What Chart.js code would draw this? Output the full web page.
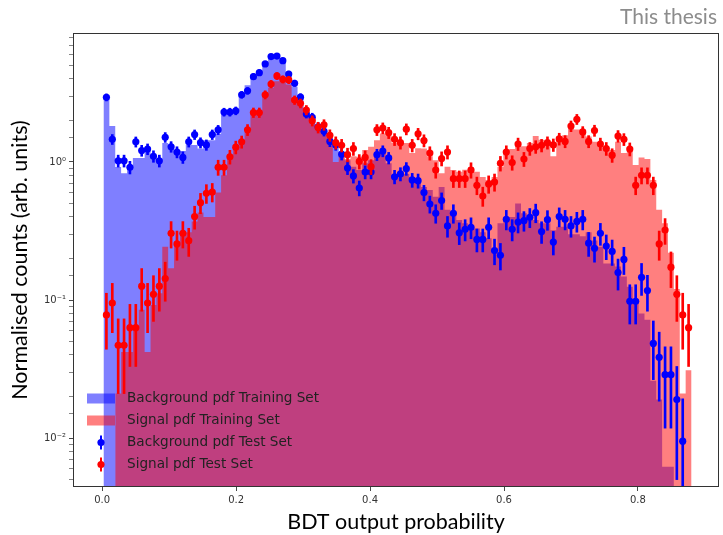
<!DOCTYPE html>
<html>
<head>
<meta charset="utf-8">
<title>BDT output probability</title>
<script src="https://cdn.jsdelivr.net/npm/chart.js@4.4.1/dist/chart.umd.min.js"></script>
<style>
  html, body { margin: 0; padding: 0; background: #fff; }
  #wrap { position: relative; width: 723px; height: 535px; }
  #tag { position: absolute; right: 6px; top: 3px; font-family: Lato, sans-serif; font-size: 21px; color: #8c8c8c; }
</style>
</head>
<body>
<div id="wrap">
  <canvas id="bdtChart"></canvas>
  <div id="tag">This thesis</div>
</div>
<script>
// binning of the BDT output (100 bins)
const binLo = 0.002;
const binWidth = 0.00878;

// training sets, normalised bin contents
const bkgTrain = [
  2.9, 1.82, 0.92, 0.83, 0.92, 1.07, 1.07, 1.22, 1.08, 1.02,
  1.37, 1.28, 1.2, 1.2, 1.33, 1.33, 1.25, 1.44, 1.44, 1.6,
  2.2, 2.38, 2.38, 3.0, 3.6, 4.1, 4.55, 5.19, 5.8, 5.85,
  5.25, 4.4, 3.51, 2.97, 2.25, 2.1, 1.85, 1.68, 1.5, 1.29,
  1.12, 1.03, 0.925, 0.875, 0.98, 1.03, 1.16, 1.22, 0.98, 0.805,
  0.82, 0.82, 0.78, 0.74, 0.66, 0.627, 0.56, 0.66, 0.45, 0.425,
  0.38, 0.36, 0.34, 0.33, 0.31, 0.28, 0.23, 0.36, 0.4, 0.4,
  0.5, 0.425, 0.4, 0.38, 0.36, 0.36, 0.32, 0.34, 0.34, 0.3,
  0.3, 0.29, 0.31, 0.27, 0.243, 0.184, 0.184, 0.175, 0.148, 0.125,
  0.1, 0.08, 0.072, 0.026, 0.019, 0.0062, 0.0062, 0, 0, 0
];
const sigTrain = [
  0, 0, 0.021, 0.042, 0.042, 0.063, 0.085, 0.042, 0.092, 0.112,
  0.243, 0.17, 0.243, 0.3, 0.31, 0.37, 0.43, 0.4, 0.4, 0.6,
  0.8, 1.09, 1.29, 1.42, 1.65, 2.25, 2.28, 3.1, 3.45, 3.85,
  3.85, 3.65, 2.9, 2.6, 2.22, 2.02, 1.8, 1.7, 1.52, 1.0,
  1.18, 1.05, 1.1, 1.09, 1.22, 1.29, 1.44, 1.61, 1.55, 1.37,
  1.37, 1.37, 1.16, 1.26, 1.25, 1.1, 1.03, 0.83, 0.925, 0.875,
  0.85, 0.88, 0.92, 0.85, 0.78, 0.74, 0.78, 0.92, 1.22, 1.24,
  1.33, 1.3, 1.37, 1.54, 1.45, 1.4, 1.1, 1.53, 1.56, 1.75,
  1.72, 1.72, 1.53, 1.4, 1.33, 1.29, 1.22, 1.4, 1.16, 1.22,
  0.95, 1.08, 1.05, 0.74, 0.45, 0.36, 0.22, 0.12, 0.021, 0.031
];

// test sets with their uncertainties
const bkgTest = [
  2.94, 1.46, 1.02, 1.02, 0.915, 1.4, 1.21, 1.24, 1.1, 1.02,
  1.51, 1.29, 1.18, 1.08, 1.4, 1.58, 1.38, 1.33, 1.58, 1.71,
  2.3, 2.3, 2.35, 3.07, 3.28, 4.15, 4.44, 5.13, 5.8, 5.85,
  5.42, 4.34, 3.72, 2.95, 2.23, 2.11, 1.8, 1.67, 1.41, 1.33,
  1.14, 0.905, 0.792, 0.648, 0.846, 0.846, 1.13, 1.2, 1.07, 0.782,
  0.819, 0.895, 0.741, 0.732, 0.6, 0.496, 0.425, 0.525, 0.344, 0.425,
  0.307, 0.325, 0.336, 0.275, 0.275, 0.336, 0.228, 0.211, 0.384, 0.325,
  0.367, 0.376, 0.397, 0.429, 0.313, 0.382, 0.263, 0.402, 0.384, 0.344,
  0.371, 0.384, 0.258, 0.237, 0.304, 0.246, 0.225, 0.158, 0.197, 0.098,
  0.098, 0.146, 0.117, 0.0485, 0.0385, 0.0288, 0.0288, 0.019, 0.0095, null
];
const bkgTestErr = [
  0.171, 0.121, 0.101, 0.101, 0.096, 0.118, 0.11, 0.111, 0.105, 0.101,
  0.123, 0.114, 0.109, 0.104, 0.118, 0.126, 0.117, 0.115, 0.126, 0.131,
  0.152, 0.152, 0.153, 0.175, 0.181, 0.204, 0.211, 0.226, 0.241, 0.242,
  0.233, 0.208, 0.193, 0.172, 0.149, 0.145, 0.134, 0.129, 0.119, 0.115,
  0.107, 0.095, 0.089, 0.08, 0.092, 0.092, 0.106, 0.11, 0.103, 0.088,
  0.09, 0.095, 0.086, 0.086, 0.077, 0.07, 0.065, 0.072, 0.059, 0.065,
  0.055, 0.057, 0.058, 0.052, 0.052, 0.058, 0.048, 0.046, 0.062, 0.057,
  0.061, 0.061, 0.063, 0.066, 0.056, 0.062, 0.051, 0.063, 0.062, 0.059,
  0.061, 0.062, 0.051, 0.049, 0.055, 0.05, 0.047, 0.04, 0.044, 0.031,
  0.031, 0.038, 0.034, 0.022, 0.02, 0.017, 0.017, 0.014, 0.0097, null
];
const sigTest = [
  0.078, 0.095, 0.047, 0.047, 0.063, 0.063, 0.126, 0.095, 0.11, 0.126,
  0.143, 0.304, 0.255, 0.304, 0.269, 0.402, 0.507, 0.593, 0.606, 0.915,
  0.915, 1.09, 1.28, 1.4, 1.71, 2.28, 2.28, 3.07, 3.67, 4.2,
  3.97, 3.93, 2.81, 2.66, 2.38, 1.99, 1.78, 1.86, 1.56, 1.38,
  1.32, 1.13, 1.25, 1.01, 1.08, 0.925, 1.71, 1.76, 1.63, 1.46,
  1.38, 1.73, 1.32, 1.6, 1.43, 1.16, 0.875, 1.06, 1.18, 0.757,
  0.757, 0.757, 0.875, 0.678, 0.567, 0.693, 0.716, 0.978, 1.18, 0.99,
  1.35, 1.05, 1.25, 1.29, 1.32, 1.38, 1.33, 1.47, 1.41, 1.82,
  2.04, 1.65, 1.41, 1.69, 1.35, 1.25, 1.12, 1.54, 1.46, 1.24,
  0.678, 0.8, 0.8, 0.678, 0.255, 0.321, 0.173, 0.11, 0.078, 0.063
];
const sigTestErr = [
  0.034, 0.037, 0.026, 0.026, 0.03, 0.03, 0.043, 0.037, 0.04, 0.043,
  0.045, 0.066, 0.061, 0.066, 0.062, 0.076, 0.085, 0.092, 0.093, 0.115,
  0.115, 0.125, 0.136, 0.142, 0.157, 0.181, 0.181, 0.21, 0.23, 0.246,
  0.239, 0.238, 0.201, 0.196, 0.185, 0.169, 0.16, 0.164, 0.15, 0.141,
  0.138, 0.128, 0.134, 0.121, 0.125, 0.115, 0.157, 0.159, 0.153, 0.145,
  0.141, 0.158, 0.138, 0.152, 0.144, 0.129, 0.112, 0.124, 0.13, 0.104,
  0.104, 0.104, 0.112, 0.099, 0.09, 0.1, 0.102, 0.119, 0.13, 0.119,
  0.139, 0.123, 0.134, 0.136, 0.138, 0.141, 0.138, 0.145, 0.142, 0.162,
  0.171, 0.154, 0.142, 0.156, 0.139, 0.134, 0.127, 0.149, 0.145, 0.134,
  0.099, 0.107, 0.107, 0.099, 0.061, 0.068, 0.05, 0.04, 0.034, 0.03
];

// axes
const xTicks = [0, 0.2, 0.4, 0.6, 0.8];
const xTickLabels = ["0.0", "0.2", "0.4", "0.6", "0.8"];
const yDecades = [0, -1, -2];
const yDecadeLabels = ["10\u2070", "10\u207B\u00B9", "10\u207B\u00B2"];
const yMin = 0.00442;
const yMax = 8.6;

const edge = (k) => binLo + k * binWidth;
const centre = (k) => edge(k) + binWidth / 2;

// outline of a filled histogram: two points per bin, gaps where empty
function histOutline(values) {
  const pts = [];
  values.forEach((v, k) => {
    if (v > 0) {
      pts.push({ x: edge(k), y: v }, { x: edge(k + 1), y: v });
    } else {
      pts.push({ x: edge(k), y: null });
    }
  });
  return pts;
}

function markers(values) {
  return values
    .map((v, k) => ({ x: centre(k), y: v }))
    .filter((p) => p.y != null);
}

// vertical error bars drawn as thin floating bars
function errorBars(values, errs) {
  const out = [];
  values.forEach((v, k) => {
    if (v == null) return;
    out.push({ x: centre(k), y: [Math.max(v - errs[k], 1e-4), v + errs[k]] });
  });
  return out;
}

function isDecade(v) {
  const e = Math.log10(v);
  return Math.abs(e - Math.round(e)) < 1e-6;
}

// plot frame on all four sides
const frame = {
  id: "frame",
  afterDatasetsDraw(chart) {
    const { ctx, chartArea: a } = chart;
    ctx.save();
    ctx.strokeStyle = "#333";
    ctx.lineWidth = 1;
    ctx.strokeRect(Math.round(a.left) + 0.5, Math.round(a.top) + 0.5,
      Math.round(a.right - a.left) - 1, Math.round(a.bottom - a.top) - 1);
    ctx.restore();
  },
};

// legend inside the lower left corner of the plot
const insideLegend = {
  id: "insideLegend",
  afterDatasetsDraw(chart, args, opts) {
    const { ctx } = chart;
    const items = chart.data.datasets.filter((d) => d.legendKind);
    ctx.save();
    ctx.font = opts.font;
    ctx.textBaseline = "middle";
    items.forEach((d, i) => {
      const y = opts.top + i * opts.rowGap;
      const hx = opts.handleX;
      if (d.legendKind === "patch") {
        ctx.fillStyle = d.backgroundColor;
        ctx.fillRect(hx - 14, y - 5, 28, 10);
      } else {
        ctx.fillStyle = d.pointBackgroundColor;
        ctx.fillRect(hx - 1, y - 7, 2, 14);
        ctx.beginPath();
        ctx.arc(hx, y, 3.6, 0, Math.PI * 2);
        ctx.fill();
      }
      ctx.fillStyle = opts.color;
      ctx.fillText(d.label, opts.textX, y);
    });
    ctx.restore();
  },
};

const ctx = document.getElementById("bdtChart").getContext("2d");
Chart.defaults.font.family = "'DejaVu Sans', sans-serif";
Chart.defaults.color = "#333";

const chart = new Chart(ctx, {
  type: "line",
  data: {
    datasets: [
      {
        label: "Background pdf Training Set",
        legendKind: "patch",
        data: histOutline(bkgTrain),
        backgroundColor: "rgba(0, 0, 255, 0.5)",
        borderColor: "rgba(0, 0, 0, 0)",
        borderWidth: 0,
        pointRadius: 0,
        fill: "start",
        spanGaps: false,
        order: 5,
      },
      {
        label: "Signal pdf Training Set",
        legendKind: "patch",
        data: histOutline(sigTrain),
        backgroundColor: "rgba(255, 0, 0, 0.5)",
        borderColor: "rgba(0, 0, 0, 0)",
        borderWidth: 0,
        pointRadius: 0,
        fill: "start",
        spanGaps: false,
        order: 4,
      },
      {
        label: "Background pdf Test Set",
        legendKind: "errorbar",
        data: markers(bkgTest),
        showLine: false,
        pointRadius: 3.6,
        pointBorderWidth: 0,
        pointBackgroundColor: "#0000ff",
        backgroundColor: "#0000ff",
        order: 2,
      },
      {
        label: "Signal pdf Test Set",
        legendKind: "errorbar",
        data: markers(sigTest),
        showLine: false,
        pointRadius: 3.6,
        pointBorderWidth: 0,
        pointBackgroundColor: "#ff0000",
        backgroundColor: "#ff0000",
        order: 0,
      },
      {
        type: "bar",
        data: errorBars(bkgTest, bkgTestErr),
        backgroundColor: "#0000ff",
        barThickness: 2,
        borderWidth: 0,
        grouped: false,
        order: 3,
      },
      {
        type: "bar",
        data: errorBars(sigTest, sigTestErr),
        backgroundColor: "#ff0000",
        barThickness: 2,
        borderWidth: 0,
        grouped: false,
        order: 1,
      },
    ],
  },
  options: {
    responsive: true,
    maintainAspectRatio: false,
    animation: false,
    devicePixelRatio: 1,
    events: [],
    layout: { padding: { top: 33, right: 2, bottom: 0, left: 0 } },
    plugins: {
      legend: { display: false },
      tooltip: { enabled: false },
      insideLegend: {
        font: "13.6px 'DejaVu Sans'",
        color: "#222",
        handleX: 101,
        textX: 127,
        top: 398.5,
        rowGap: 22,
      },
    },
    scales: {
      x: {
        type: "linear",
        min: -0.0435,
        max: 0.921,
        offset: false,
        afterFit: (s) => { s.height = 48; },
        afterBuildTicks: (s) => { s.ticks = xTicks.map((v) => ({ value: v })); },
        grid: { offset: false, drawOnChartArea: false, drawTicks: true, tickLength: 4, tickColor: "#333", tickWidth: 0.9 },
        border: { display: false },
        ticks: {
          autoSkip: false,
          maxRotation: 0,
          padding: 3,
          font: { size: 10 },
          color: "#333",
          callback: (v) => xTickLabels[xTicks.indexOf(v)] ?? "",
        },
        title: {
          display: true,
          text: "BDT output probability",
          font: { family: "Lato", size: 21.5 },
          color: "#000",
          padding: { top: 0, bottom: 0 },
        },
      },
      y: {
        type: "logarithmic",
        min: yMin,
        max: yMax,
        afterFit: (s) => { s.width = 73; },
        afterBuildTicks: (s) => { s.ticks = s.ticks.filter((t) => t.value > yMin * 1.001 && t.value < yMax * 0.999); },
        grid: {
          drawOnChartArea: false,
          drawTicks: true,
          tickLength: 4,
          tickColor: "#333",
          tickWidth: (c) => (c.tick && isDecade(c.tick.value) ? 0.9 : 0.6),
        },
        border: { display: false },
        ticks: {
          autoSkip: false,
          padding: 3,
          font: { size: 10 },
          color: "#333",
          callback: (v) => {
            if (!isDecade(v)) return "";
            const i = yDecades.indexOf(Math.round(Math.log10(v)));
            return i >= 0 ? yDecadeLabels[i] : "";
          },
        },
        title: {
          display: true,
          text: "Normalised counts (arb. units)",
          font: { family: "Lato", size: 21.5 },
          color: "#000",
          padding: { top: 7, bottom: 0 },
        },
      },
    },
  },
  plugins: [frame, insideLegend],
});
</script>
</body>
</html>
